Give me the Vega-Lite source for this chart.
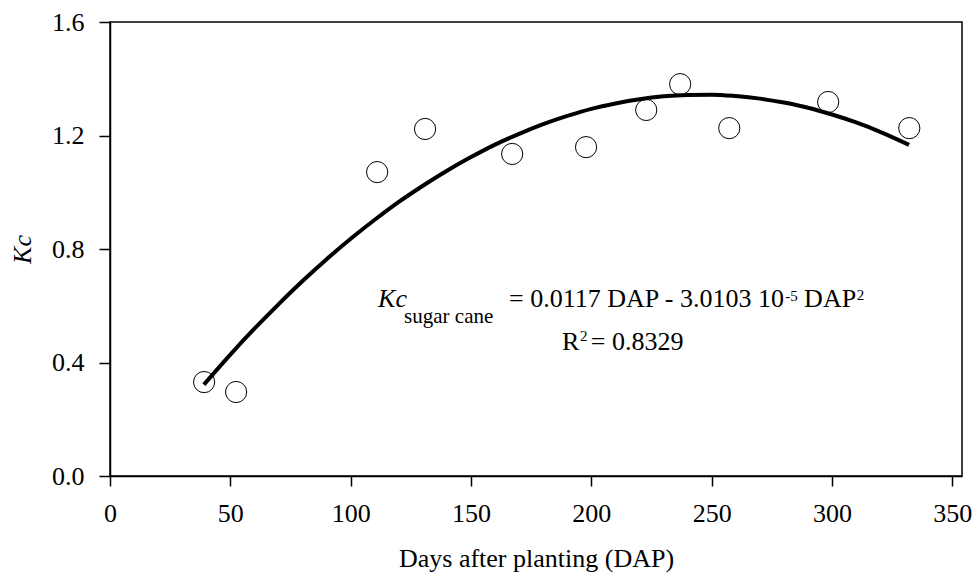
{
  "$schema": "https://vega.github.io/schema/vega-lite/v6.json",
  "width": 852,
  "height": 454,
  "autosize": {"type": "none"},
  "padding": {"left": 110, "top": 22, "right": 13, "bottom": 99},
  "background": "white",
  "config": {
    "view": {"stroke": "black", "strokeWidth": 1.5},
    "font": "Liberation Serif",
    "axis": {
      "grid": false,
      "domainColor": "black",
      "domainWidth": 1.5,
      "tickColor": "black",
      "tickWidth": 1.5,
      "labelColor": "black",
      "labelFont": "Liberation Serif",
      "labelFontSize": 26,
      "titleFont": "Liberation Serif",
      "titleFontSize": 26,
      "titleFontWeight": "normal",
      "titleColor": "black"
    }
  },
  "datasets": {
    "obs": [
      {"DAP": 39.1, "Kc": 0.331},
      {"DAP": 52.4, "Kc": 0.296},
      {"DAP": 111.0, "Kc": 1.071},
      {"DAP": 130.9, "Kc": 1.223},
      {"DAP": 167.1, "Kc": 1.135},
      {"DAP": 197.8, "Kc": 1.159},
      {"DAP": 222.8, "Kc": 1.290},
      {"DAP": 236.9, "Kc": 1.381},
      {"DAP": 257.3, "Kc": 1.226},
      {"DAP": 298.4, "Kc": 1.318},
      {"DAP": 332.1, "Kc": 1.226}
    ],
    "fit": [
      {"DAP": 39, "Kc": 0.322},
      {"DAP": 50, "Kc": 0.428},
      {"DAP": 60, "Kc": 0.519},
      {"DAP": 70, "Kc": 0.605},
      {"DAP": 80, "Kc": 0.687},
      {"DAP": 90, "Kc": 0.764},
      {"DAP": 100, "Kc": 0.836},
      {"DAP": 110, "Kc": 0.903},
      {"DAP": 120, "Kc": 0.966},
      {"DAP": 130, "Kc": 1.023},
      {"DAP": 140, "Kc": 1.076},
      {"DAP": 150, "Kc": 1.124},
      {"DAP": 160, "Kc": 1.168},
      {"DAP": 170, "Kc": 1.206},
      {"DAP": 180, "Kc": 1.240},
      {"DAP": 190, "Kc": 1.269},
      {"DAP": 200, "Kc": 1.294},
      {"DAP": 210, "Kc": 1.313},
      {"DAP": 220, "Kc": 1.328},
      {"DAP": 230, "Kc": 1.338},
      {"DAP": 240, "Kc": 1.343},
      {"DAP": 250, "Kc": 1.344},
      {"DAP": 260, "Kc": 1.339},
      {"DAP": 270, "Kc": 1.330},
      {"DAP": 280, "Kc": 1.316},
      {"DAP": 290, "Kc": 1.298},
      {"DAP": 300, "Kc": 1.274},
      {"DAP": 310, "Kc": 1.246},
      {"DAP": 320, "Kc": 1.213},
      {"DAP": 332, "Kc": 1.167}
    ],
    "labels": [
      {"part": "Kc", "DAP": 111.4, "Kc": 0.596, "kind": "italic"},
      {"part": "sugar cane", "DAP": 122.2, "Kc": 0.539, "kind": "sub"},
      {"part": "= 0.0117 DAP - 3.0103 10", "DAP": 165.8, "Kc": 0.596, "kind": "main"},
      {"part": "-5", "DAP": 280.6, "Kc": 0.617, "kind": "sup"},
      {"part": "DAP", "DAP": 288.4, "Kc": 0.596, "kind": "main"},
      {"part": "2", "DAP": 310.3, "Kc": 0.620, "kind": "sup"},
      {"part": "R", "DAP": 187.8, "Kc": 0.444, "kind": "main"},
      {"part": "2", "DAP": 195.3, "Kc": 0.476, "kind": "sup"},
      {"part": "= 0.8329", "DAP": 199.8, "Kc": 0.444, "kind": "main"}
    ]
  },
  "layer": [
    {
      "data": {"name": "obs"},
      "mark": {"type": "point", "shape": "circle", "filled": false, "stroke": "black", "strokeWidth": 1, "size": 450, "opacity": 1},
      "encoding": {
        "x": {
          "field": "DAP", "type": "quantitative",
          "scale": {"domain": [0, 354], "nice": false, "zero": false},
          "axis": {"values": [0, 50, 100, 150, 200, 250, 300, 350], "title": "Days after planting (DAP)", "tickSize": 10, "labelPadding": 14, "titlePadding": 19, "labelFlush": false}
        },
        "y": {
          "field": "Kc", "type": "quantitative",
          "scale": {"domain": [0, 1.6], "nice": false},
          "axis": {"values": [0, 0.4, 0.8, 1.2, 1.6], "format": ".1f", "title": "Kc", "titleFontStyle": "italic", "tickSize": 11, "labelPadding": 15, "titlePadding": 16, "labelFlush": false}
        }
      }
    },
    {
      "data": {"name": "fit"},
      "mark": {"type": "line", "color": "black", "strokeWidth": 4, "interpolate": "monotone"},
      "encoding": {
        "x": {"field": "DAP", "type": "quantitative"},
        "y": {"field": "Kc", "type": "quantitative"}
      }
    },
    {
      "data": {"name": "labels"},
      "transform": [{"filter": "datum.kind === 'main'"}],
      "mark": {"type": "text", "align": "left", "baseline": "alphabetic", "fontSize": 26, "font": "Liberation Serif", "color": "black"},
      "encoding": {
        "x": {"field": "DAP", "type": "quantitative"},
        "y": {"field": "Kc", "type": "quantitative"},
        "text": {"field": "part"}
      }
    },
    {
      "data": {"name": "labels"},
      "transform": [{"filter": "datum.kind === 'italic'"}],
      "mark": {"type": "text", "align": "left", "baseline": "alphabetic", "fontSize": 26, "fontStyle": "italic", "font": "Liberation Serif", "color": "black"},
      "encoding": {
        "x": {"field": "DAP", "type": "quantitative"},
        "y": {"field": "Kc", "type": "quantitative"},
        "text": {"field": "part"}
      }
    },
    {
      "data": {"name": "labels"},
      "transform": [{"filter": "datum.kind === 'sub'"}],
      "mark": {"type": "text", "align": "left", "baseline": "alphabetic", "fontSize": 21, "font": "Liberation Serif", "color": "black"},
      "encoding": {
        "x": {"field": "DAP", "type": "quantitative"},
        "y": {"field": "Kc", "type": "quantitative"},
        "text": {"field": "part"}
      }
    },
    {
      "data": {"name": "labels"},
      "transform": [{"filter": "datum.kind === 'sup'"}],
      "mark": {"type": "text", "align": "left", "baseline": "alphabetic", "fontSize": 15, "font": "Liberation Serif", "color": "black"},
      "encoding": {
        "x": {"field": "DAP", "type": "quantitative"},
        "y": {"field": "Kc", "type": "quantitative"},
        "text": {"field": "part"}
      }
    }
  ]
}
